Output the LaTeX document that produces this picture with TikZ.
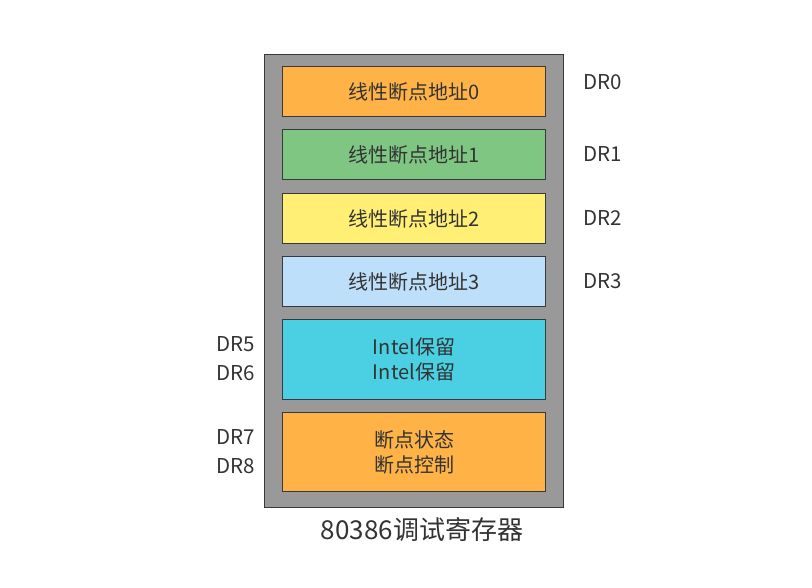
\documentclass[tikz,border=0pt]{standalone}
\usepackage{fontspec}
\setmainfont{Noto Sans CJK SC}
\definecolor{txt}{HTML}{333333}
\definecolor{frame}{HTML}{999999}
\definecolor{edge}{HTML}{36393D}
\definecolor{corange}{HTML}{FFB347}
\definecolor{cgreen}{HTML}{7FC683}
\definecolor{cyellow}{HTML}{FFEF75}
\definecolor{cblue}{HTML}{BDDFF9}
\definecolor{ccyan}{HTML}{4AD0E2}
\begin{document}
\begin{tikzpicture}[x=1pt,y=-1pt,
  reg/.style={draw=edge,line width=1pt,minimum width=263pt,anchor=north west,inner sep=0pt,text=txt,font=\fontsize{20}{25}\selectfont,align=center},
  lab/.style={text=txt,font=\fontsize{20.5}{24}\selectfont,inner sep=0pt}]
\useasboundingbox (0,0) rectangle (812,587);
\node[draw=edge,line width=1pt,fill=frame,minimum width=299pt,minimum height=453pt,anchor=north west,inner sep=0pt] (outer) at (264,54) {};
\node[reg,fill=corange,minimum height=50pt] (b0) at (282,66) {线性断点地址0};
\node[reg,fill=cgreen,minimum height=50pt] (b1) at (282,129) {线性断点地址1};
\node[reg,fill=cyellow,minimum height=50pt] (b2) at (282,193) {线性断点地址2};
\node[reg,fill=cblue,minimum height=50pt] (b3) at (282,256) {线性断点地址3};
\node[reg,fill=ccyan,minimum height=80pt] (b4) at (282,319) {Intel保留\\Intel保留};
\node[reg,fill=corange,minimum height=79pt] (b5) at (282,412) {断点状态\\断点控制};
\node[lab,anchor=west] (d0) at (583,82) {DR0};
\node[lab,anchor=west] (d1) at (583,154) {DR1};
\node[lab,anchor=west] (d2) at (583,218) {DR2};
\node[lab,anchor=west] (d3) at (583,281) {DR3};
\node[lab,anchor=east] (d5) at (255,344) {DR5};
\node[lab,anchor=east] (d6) at (255,373) {DR6};
\node[lab,anchor=east] (d7) at (255,437) {DR7};
\node[lab,anchor=east] (d8) at (255,466) {DR8};
\node[text=txt,font=\fontsize{26}{30}\selectfont,inner sep=0pt] (cap) at (422,530) {80386调试寄存器};
\end{tikzpicture}
\end{document}
